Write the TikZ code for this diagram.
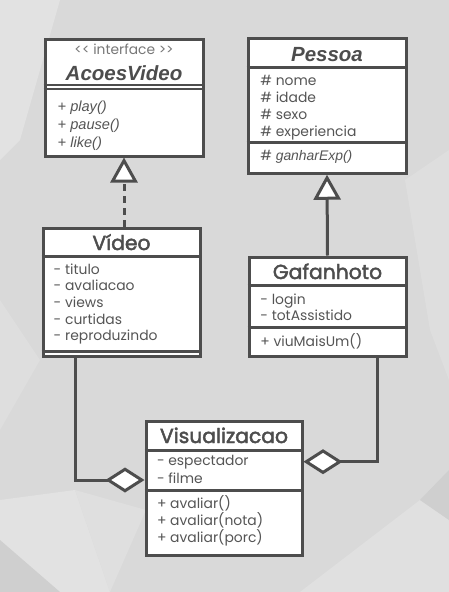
\documentclass[tikz,border=0pt]{standalone}
\usepackage{fontspec}
\setmainfont{Poppins}
\newfontfamily\arialfont{Liberation Sans}
\newfontfamily\namefont{Poppins}[FakeBold=2.2]
\usetikzlibrary{arrows.meta, positioning, backgrounds}

\definecolor{umlline}{HTML}{4D4D4D}
\definecolor{umltext}{HTML}{555555}
\definecolor{bgbase}{HTML}{D9D9D9}
\definecolor{bglight}{HTML}{E2E2E2}
\definecolor{bgdark}{HTML}{CFCFCF}

\begin{document}
\begin{tikzpicture}
  [
  x=1pt, y=-1pt,
  every node/.style={text=umltext, inner sep=0pt},
  class box/.style={draw=umlline, line width=3pt, fill=white},
  divider/.style={draw=umlline, line width=3pt},
  thin divider/.style={draw=umlline, line width=2pt},
  class name/.style={anchor=base, font=\namefont\fontsize{20.3}{20.3}\selectfont, text=umlline},
  abstract name/.style={anchor=base, font=\arialfont\fontsize{20.5}{20.5}\selectfont\bfseries\itshape, text=umlline},
  stereotype/.style={anchor=base, font=\fontsize{13.8}{13.8}\selectfont, text=umltext!80},
  attr/.style={anchor=base west, font=\fontsize{13.9}{13.9}\selectfont},
  abstract op/.style={anchor=base west, font=\arialfont\fontsize{14.6}{14.6}\selectfont\itshape},
  realize/.style={draw=umlline, line width=3pt, dash pattern=on 7pt off 5pt, -{Triangle[length=25pt, width=27pt, fill=white]}},
  inherit/.style={draw=umlline, line width=3pt, -{Triangle[length=25pt, width=27pt, fill=white]}},
  aggregate/.style={draw=umlline, line width=3pt, -{Diamond[length=39pt, width=25pt, fill=white]}}
  ]

  % background
  \fill[bgbase] (0,0) rectangle (449,592);
  \fill[bglight] (0,0) -- (60,0) -- (20,140) -- (0,160) -- cycle;
  \fill[bglight!60!bgbase] (0,300) -- (40,360) -- (0,430) -- cycle;
  \fill[bglight] (0,500) -- (75,490) -- (110,592) -- (0,592) -- cycle;
  \fill[bglight!70!bgbase] (75,490) -- (146,510) -- (110,592) -- cycle;
  \fill[bgdark] (0,540) -- (60,592) -- (0,592) -- cycle;
  \fill[bglight!80!bgbase] (300,592) -- (420,500) -- (449,520) -- (449,592) -- cycle;
  \fill[bgdark] (420,500) -- (449,470) -- (449,520) -- cycle;
  \fill[bglight!50!bgbase] (405,180) -- (449,150) -- (449,380) -- (430,330) -- cycle;
  \useasboundingbox (0,0) rectangle (449,592);

  % classes
  \node[class box, minimum width=158pt, minimum height=117pt]   (acoes)     at (124,97.5)  {};
  \node[class box, minimum width=158pt, minimum height=134.5pt] (pessoa)    at (327,106)   {};
  \node[class box, minimum width=157pt, minimum height=128pt]   (video)     at (121.5,292) {};
  \node[class box, minimum width=157pt, minimum height=99pt]    (gafanhoto) at (327.5,306.5) {};
  \node[class box, minimum width=156pt, minimum height=134pt]   (visual)    at (224,488)   {};

  % compartments
  \draw[thin divider] ([yshift=-47.7pt]acoes.north west) -- ([yshift=-47.7pt]acoes.north east);
  \draw[thin divider] ([yshift=-51.7pt]acoes.north west) -- ([yshift=-51.7pt]acoes.north east);
  \draw[divider] ([yshift=-30.3pt]pessoa.north west) -- ([yshift=-30.3pt]pessoa.north east);
  \draw[divider] ([yshift=-105.3pt]pessoa.north west) -- ([yshift=-105.3pt]pessoa.north east);
  \draw[divider] ([yshift=-30.3pt]video.north west) -- ([yshift=-30.3pt]video.north east);
  \draw[divider] ([yshift=6pt]video.south west) -- ([yshift=6pt]video.south east);
  \draw[divider] ([yshift=-30.3pt]gafanhoto.north west) -- ([yshift=-30.3pt]gafanhoto.north east);
  \draw[divider] ([yshift=-72.3pt]gafanhoto.north west) -- ([yshift=-72.3pt]gafanhoto.north east);
  \draw[divider] ([yshift=-30.7pt]visual.north west) -- ([yshift=-30.7pt]visual.north east);
  \draw[divider] ([yshift=-70.7pt]visual.north west) -- ([yshift=-70.7pt]visual.north east);

  % AcoesVideo
  \node[stereotype]    (acoes-st)   at ([yshift=-17pt]acoes.north)   {<{}< interface >{}>};
  \node[abstract name] (acoes-name) at ([yshift=-43pt]acoes.north)   {AcoesVideo};
  \foreach \op [count=\i] in {play, pause, like}
    \node[abstract op] (acoes-m\i) at ([xshift=14pt, yshift={-73.5pt-18.3pt*(\i-1)}]acoes.north west) {+ \op()};

  % Pessoa
  \node[abstract name] (pessoa-name) at ([yshift=-24pt]pessoa.north) {Pessoa};
  \foreach \att [count=\i] in {nome, idade, sexo, experiencia}
    \node[attr] (pessoa-a\i) at ([xshift=13.7pt, yshift={-48.5pt-16.8pt*(\i-1)}]pessoa.north west) {\# \att};
  \node[attr] (pessoa-m1) at ([xshift=13.7pt, yshift=-123pt]pessoa.north west) {\# {\arialfont\itshape ganharExp()}};

  % Video
  \node[class name] (video-name) at ([yshift=-23.5pt]video.north) {Vídeo};
  \foreach \att [count=\i] in {titulo, avaliacao, views, curtidas, reproduzindo}
    \node[attr] (video-a\i) at ([xshift=12pt, yshift={-47.5pt-16.7pt*(\i-1)}]video.north west) {- \att};

  % Gafanhoto
  \node[class name] (gafanhoto-name) at ([yshift=-23.5pt]gafanhoto.north) {Gafanhoto};
  \foreach \att [count=\i] in {login, totAssistido}
    \node[attr] (gafanhoto-a\i) at ([xshift=12.7pt, yshift={-48.5pt-16.7pt*(\i-1)}]gafanhoto.north west) {- \att};
  \node[attr] (gafanhoto-m1) at ([xshift=12.7pt, yshift=-90.5pt]gafanhoto.north west) {+ viuMaisUm()};

  % Visualizacao
  \node[class name] (visual-name) at ([yshift=-23.5pt]visual.north) {Visualizacao};
  \foreach \att [count=\i] in {espectador, filme}
    \node[attr] (visual-a\i) at ([xshift=12.3pt, yshift={-46.2pt-17.3pt*(\i-1)}]visual.north west) {- \att};
  \foreach \op [count=\i] in {avaliar(), avaliar(nota), avaliar(porc)}
    \node[attr] (visual-m\i) at ([xshift=12.3pt, yshift={-88.8pt-17pt*(\i-1)}]visual.north west) {+ \op};

  % relations
  \draw[realize]   (video.north -| acoes.south) -- (acoes.south);
  \draw[inherit]   (gafanhoto.north) -- (pessoa.south);
  \draw[aggregate] ([xshift=-46.5pt]video.south) |- ([yshift=8pt]visual.west);
  \draw[aggregate] ([xshift=49.5pt]gafanhoto.south) |- ([yshift=26.3pt]visual.east);
\end{tikzpicture}
\end{document}
